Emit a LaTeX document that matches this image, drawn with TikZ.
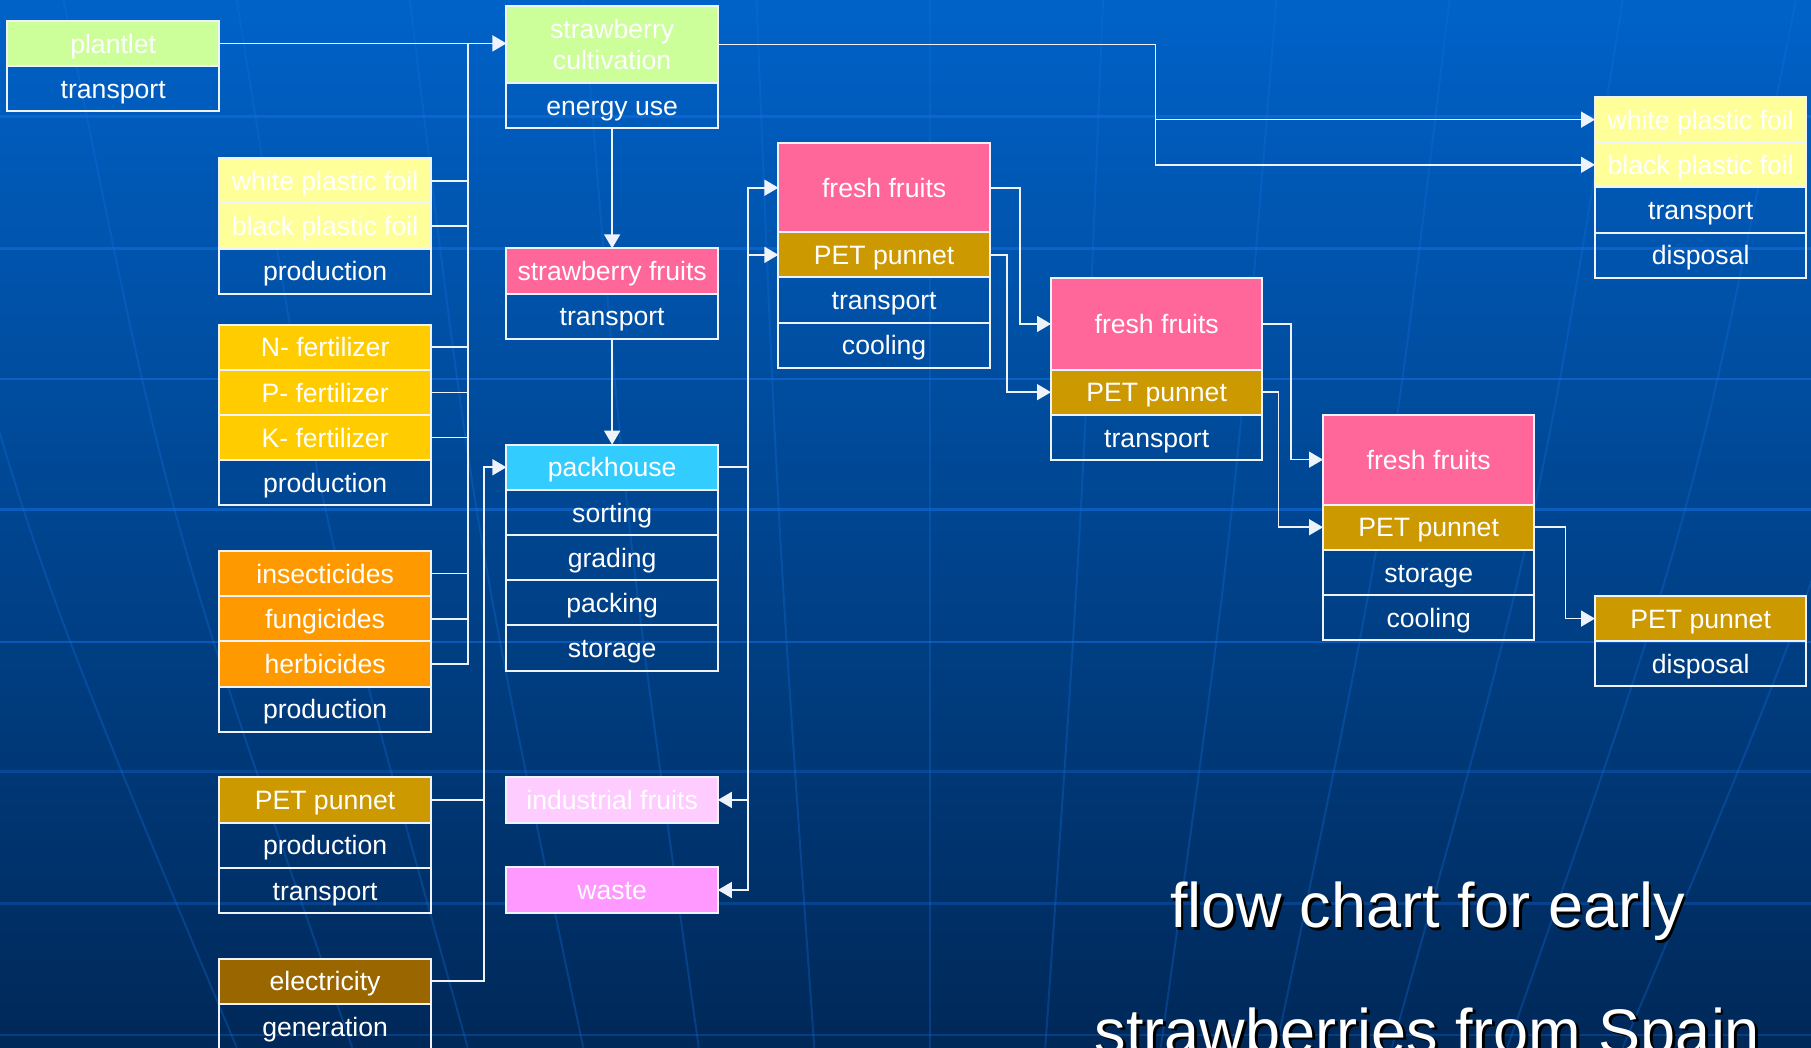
\documentclass[tikz,border=0pt]{standalone}
\usepackage{fontspec}
\setmainfont{Liberation Sans}
\usetikzlibrary{positioning,arrows.meta}
\definecolor{bgtop}{RGB}{0,98,200}
\definecolor{bgmid}{RGB}{0,70,145}
\definecolor{bgbot}{RGB}{0,40,88}
\definecolor{gridblue}{RGB}{20,112,225}
\definecolor{rim}{RGB}{238,242,250}
\definecolor{leafgreen}{HTML}{CCFF99}
\definecolor{foilyellow}{HTML}{FFFF99}
\definecolor{fertgold}{HTML}{FFCC00}
\definecolor{pestorange}{HTML}{FF9900}
\definecolor{punnetgold}{HTML}{CC9900}
\definecolor{elecbrown}{HTML}{996600}
\definecolor{fruitpink}{HTML}{FF6699}
\definecolor{packcyan}{HTML}{33CCFF}
\definecolor{induspink}{HTML}{FFCCFF}
\definecolor{wastepink}{HTML}{FF99FF}
\newcommand\shadowed[1]{\makebox[0pt][l]{\kern1.3pt\raisebox{-1.3pt}{\color{black}#1}}#1}

\begin{document}
\begin{tikzpicture}[x=0.5775pt, y=-0.5775pt,
  box/.style={draw=rim, line width=1pt, text=white, minimum width=105.7pt, minimum height=22.6pt,
    inner sep=0pt, outer sep=0pt, align=center, text height=9.7pt, text depth=0pt,
    font=\fontsize{13.3}{15.6}\selectfont},
  link/.style={draw=rim, line width=0.8pt},
  flow/.style={link, -{Triangle[length=7pt,width=8pt]}},
  headline/.style={text=white, inner sep=0pt, font=\fontsize{31.5}{38}\selectfont}]
  \useasboundingbox (0,0) rectangle (1568,907);
  \begin{scope}
    \clip (0,0) rectangle (1568,907);
    \fill[top color=bgtop, middle color=bgmid, bottom color=bgbot] (0,0) rectangle (1568,907);
    \foreach \gy/\op in {101/0.55,215/0.55,328/0.55,441/0.55,556/0.55,668/0.3,782/0.3,896/0.3}
      \draw[gridblue, line width=1.3pt, opacity=\op] (0,\gy) -- (1568,\gy);
    \foreach \d in {-6,...,6}
      \draw[gridblue, line width=1pt, opacity=0.3] (805+150*\d,0) .. controls (805+132*\d,450) .. (805+100*\d,907);
  \end{scope}

  \node(plantlet)[box, fill=leafgreen, anchor=north] at (98,18) {plantlet};
  \node(plantletT)[box, below=0pt of plantlet] {transport};
  \node(wfoilA)[box, fill=foilyellow, anchor=north] at (281.5,137) {white plastic foil};
  \node(bfoilA)[box, fill=foilyellow, below=0pt of wfoilA] {black plastic foil};
  \node(foilP)[box, below=0pt of bfoilA] {production};
  \node(nfert)[box, fill=fertgold, anchor=north] at (281.5,281) {N- fertilizer};
  \node(pfert)[box, fill=fertgold, below=0pt of nfert] {P- fertilizer};
  \node(kfert)[box, fill=fertgold, below=0pt of pfert] {K- fertilizer};
  \node(fertP)[box, below=0pt of kfert] {production};
  \node(insect)[box, fill=pestorange, anchor=north] at (281.5,477) {insecticides};
  \node(fungi)[box, fill=pestorange, below=0pt of insect] {fungicides};
  \node(herb)[box, fill=pestorange, below=0pt of fungi] {herbicides};
  \node(pestP)[box, below=0pt of herb] {production};
  \node(petA)[box, fill=punnetgold, anchor=north] at (281.5,673) {PET punnet};
  \node(petAP)[box, below=0pt of petA] {production};
  \node(petAT)[box, below=0pt of petAP] {transport};
  \node(elec)[box, fill=elecbrown, anchor=north] at (281.5,830) {electricity};
  \node(elecG)[box, below=0pt of elec] {generation};

  \node(cult)[box, fill=leafgreen, minimum height=38.7pt, text height={}, text depth={}, anchor=north] at (530,5) {strawberry\\cultivation};
  \node(cultE)[box, below=0pt of cult] {energy use};
  \node(sfruit)[box, fill=fruitpink, anchor=north] at (530,215) {strawberry fruits};
  \node(sfruitT)[box, below=0pt of sfruit] {transport};
  \node(pack)[box, fill=packcyan, anchor=north] at (530,385) {packhouse};
  \node(sort)[box, below=0pt of pack] {sorting};
  \node(grade)[box, below=0pt of sort] {grading};
  \node(packing)[box, below=0pt of grade] {packing};
  \node(store)[box, below=0pt of packing] {storage};
  \node(indus)[box, fill=induspink, anchor=north] at (530,673) {industrial fruits};
  \node(waste)[box, fill=wastepink, anchor=north] at (530,751) {waste};

  \node(ff1)[box, fill=fruitpink, minimum height=44.5pt, anchor=north] at (765.5,124) {fresh fruits};
  \node(pet1)[box, fill=punnetgold, below=0pt of ff1] {PET punnet};
  \node(ff1T)[box, below=0pt of pet1] {transport};
  \node(ff1C)[box, below=0pt of ff1T] {cooling};
  \node(ff2)[box, fill=fruitpink, minimum height=45.6pt, anchor=north] at (1001.5,241) {fresh fruits};
  \node(pet2)[box, fill=punnetgold, below=0pt of ff2] {PET punnet};
  \node(ff2T)[box, below=0pt of pet2] {transport};
  \node(ff3)[box, fill=fruitpink, minimum height=45pt, anchor=north] at (1237,359) {fresh fruits};
  \node(pet3)[box, fill=punnetgold, below=0pt of ff3] {PET punnet};
  \node(ff3S)[box, below=0pt of pet3] {storage};
  \node(ff3C)[box, below=0pt of ff3S] {cooling};

  \node(wfoilB)[box, fill=foilyellow, anchor=north] at (1472.5,84) {white plastic foil};
  \node(bfoilB)[box, fill=foilyellow, below=0pt of wfoilB] {black plastic foil};
  \node(foilT)[box, below=0pt of bfoilB] {transport};
  \node(foilD)[box, below=0pt of foilT] {disposal};
  \node(pet4)[box, fill=punnetgold, anchor=north] at (1472.5,516) {PET punnet};
  \node(pet4D)[box, below=0pt of pet4] {disposal};

  \node(titleA)[headline, anchor=base] at (1236,803) {\shadowed{flow chart for early}};
  \node(titleB)[headline, anchor=base] at (1236,912) {\shadowed{strawberries from Spain}};

  \coordinate(busA) at (405,38);
  \path (pack.west) ++(-19.5,0) coordinate(busB);
  \path (pack.east) ++(26,0) coordinate(outC);
  \path (cult.east) ++(379,0) coordinate(cultR);

  \draw[flow] (plantlet.east) -- (plantlet.east -| cult.west);
  \draw[link] (herb.east) -| (busA);
  \foreach \n in {wfoilA,bfoilA,nfert,pfert,kfert,insect,fungi}
    \draw[link] (\n.east) -- (\n.east -| busA);
  \draw[flow] (elec.east) -| (busB) -- (pack.west);
  \draw[link] (petA.east) -- (petA.east -| busB);
  \draw[flow] (cultE.south) -- (sfruit.north);
  \draw[flow] (sfruitT.south) -- (pack.north);
  \draw[link] (pack.east) -- (outC);
  \foreach \n in {ff1,pet1}
    \draw[flow] (outC) |- (\n.west);
  \foreach \n in {indus,waste}
    \draw[flow] (outC) |- (\n.east);
  \draw[link] (cult.east) -- (cultR);
  \foreach \n in {wfoilB,bfoilB}
    \draw[flow] (cultR) |- (\n.west);
  \draw[flow] (ff1.east) -- ++(26,0) |- (ff2.west);
  \draw[flow] (pet1.east) -- ++(15,0) |- (pet2.west);
  \draw[flow] (ff2.east) -- ++(25,0) |- (ff3.west);
  \draw[flow] (pet2.east) -- ++(14,0) |- (pet3.west);
  \draw[flow] (pet3.east) -- ++(27,0) |- (pet4.west);
\end{tikzpicture}
\end{document}
